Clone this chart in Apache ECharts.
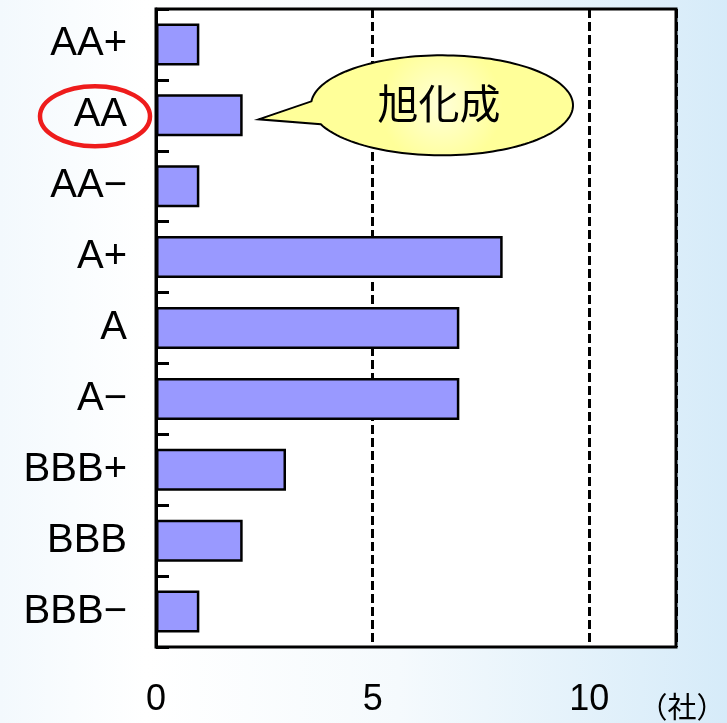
<!DOCTYPE html>
<html lang="ja">
<head>
    <title>rating</title>
    <meta charset="utf-8">
    <style>
        html, body { margin: 0; padding: 0; }
    </style>
</head>
<body>
<script type="text/javascript" src="https://cdn.jsdelivr.net/npm/echarts@6/dist/echarts.min.js"></script>
<div id="main" style="width: 727px;height: 723px"></div>
<script type="text/javascript">
    // 格付けごとの社数
    var ratings = ['AA+', 'AA', 'AA−', 'A+', 'A', 'A−', 'BBB+', 'BBB', 'BBB−'];
    var companies = [1, 2, 1, 8, 7, 7, 3, 2, 1];
    var xMin = 0;
    var xMax = 12;
    var xStep = 5;
    var unitLabel = '（社）';
    var markRating = 'AA';
    var markName = '旭化成';

    var dom = document.getElementById('main');
    var myChart = echarts.init(dom);
    var option = {
        animation: false,
        backgroundColor: {
            type: 'linear', x: 0, y: 0, x2: 1, y2: 0,
            colorStops: [
                {offset: 0, color: '#f3f9fd'},
                {offset: 0.2, color: '#ffffff'},
                {offset: 0.55, color: '#f5fafd'},
                {offset: 1, color: '#d6ebf9'}
            ]
        },
        grid: {
            show: true,
            left: 156, right: 51, top: 9, bottom: 76,
            backgroundColor: '#fff',
            borderColor: '#000',
            borderWidth: 3
        },
        xAxis: {
            type: 'value',
            min: xMin,
            max: xMax,
            interval: xStep,
            axisLine: {show: false},
            axisTick: {show: false},
            splitLine: {
                show: true,
                lineStyle: {color: '#000', width: 3, type: [9, 4]}
            },
            axisLabel: {
                margin: 35,
                fontSize: 36,
                color: '#000',
                fontFamily: 'Liberation Sans',
                showMaxLabel: false,
                formatter: function (v) {
                    return v % xStep === 0 ? String(v) : '';
                }
            }
        },
        yAxis: {
            type: 'category',
            inverse: true,
            data: ratings,
            axisLine: {show: true, lineStyle: {color: '#000', width: 3}},
            axisTick: {show: true, inside: true, length: 13, lineStyle: {color: '#000', width: 3}},
            axisLabel: {
                margin: 29,
                fontSize: 40,
                color: '#000',
                fontFamily: 'Liberation Sans'
            }
        },
        series: [{
            type: 'bar',
            data: companies,
            barWidth: 42,
            itemStyle: {
                color: '#9999ff',
                borderColor: '#000',
                borderWidth: 2.5
            }
        }]
    };
    myChart.setOption(option);

    // 吹き出しと赤丸の位置は棒から求める
    var idx = ratings.indexOf(markRating);
    var barEnd = myChart.convertToPixel({gridIndex: 0}, [companies[idx], idx]);
    var rowY = barEnd[1];
    var tipX = barEnd[0] + 16;
    var tipY = rowY + 4;
    var cx = 442, cy = rowY - 10, rx = 131, ry = 50;
    // 尻尾の付け根の角度
    var a1 = Math.PI + Math.asin(4 / ry);
    var a2 = Math.PI - Math.asin(19 / ry);
    var pts = [[tipX, tipY]];
    var n = 140;
    for (var i = 0; i <= n; i++) {
        var a = a1 + (a2 + 2 * Math.PI - a1) * i / n;
        pts.push([cx + rx * Math.cos(a), cy + ry * Math.sin(a)]);
    }

    myChart.setOption({
        graphic: [{
            type: 'polygon',
            shape: {points: pts},
            style: {
                fill: {
                    type: 'radial', x: 0.58, y: 0.5, r: 0.6,
                    colorStops: [
                        {offset: 0, color: '#ffffd8'},
                        {offset: 1, color: '#ffff99'}
                    ]
                },
                stroke: '#000',
                lineWidth: 2
            },
            z: 10
        }, {
            type: 'text',
            x: cx - 3, y: cy - 2,
            style: {
                text: markName,
                fontSize: 41,
                fontFamily: 'Noto Sans CJK JP',
                fill: '#000',
                align: 'center',
                verticalAlign: 'middle'
            },
            z: 11
        }, {
            type: 'ellipse',
            shape: {cx: 95, cy: rowY + 1, rx: 55, ry: 30},
            style: {fill: 'none', stroke: '#ee1c1c', lineWidth: 4.5},
            z: 10
        }, {
            type: 'text',
            x: 682, y: 707,
            style: {
                text: unitLabel,
                fontSize: 29,
                fontFamily: 'Noto Sans CJK JP',
                fill: '#000',
                align: 'center',
                verticalAlign: 'middle'
            }
        }]
    });
</script>
</body>
</html>
